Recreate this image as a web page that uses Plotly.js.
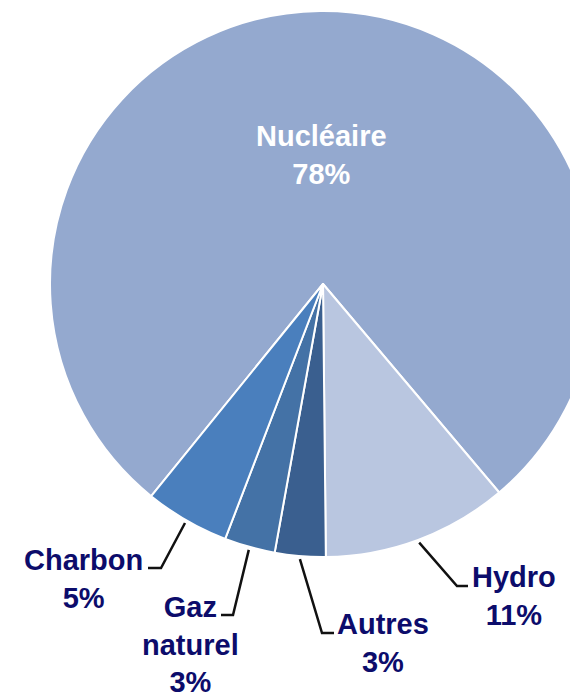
<!DOCTYPE html>
<html><head><meta charset="utf-8">
<script src="https://cdn.plot.ly/plotly-3.0.1.min.js"></script>
<style>html,body{margin:0;padding:0;overflow:hidden;background:#fff}#chart{width:596px;height:697px}</style>
</head><body><div id="chart"></div>
<script>
// ---- data ----
const categories = ['Nucléaire', 'Hydro', 'Autres', 'Gaz naturel', 'Charbon'];
const shares = [78, 11, 3, 3, 5];
const labelTexts = ['Nucléaire', 'Hydro', 'Autres', 'Gaz<br>naturel', 'Charbon'];

// ---- styles / layout ----
const sliceColors = ['#94a9cf', '#b9c6e0', '#3a5f8f', '#4472a6', '#4a7fbd'];
const G = {l: 50, t: 11, size: 546, W: 596, H: 697};
const cx = G.l + G.size / 2, cy = G.t + G.size / 2, R = G.size / 2;
const rotation = 219;
const textColor = '#0c0c6b';
const fontFamily = '"Liberation Sans", Arial, sans-serif';

// outside label placement (pixels): text centre, elbow of leader line, end of horizontal tick
const labelPlacement = {
  'Hydro':       {tx: 514, ty: 596, elbow: [457, 586], end: [468, 586]},
  'Autres':      {tx: 383, ty: 643, elbow: [322, 633], end: [334, 633]},
  'Gaz naturel': {tx: 190, ty: 644, elbow: [233, 615], end: [221, 615]},
  'Charbon':     {tx: 83,  ty: 579, elbow: [161, 568], end: [148, 568]}
};
const insideLabelRadius = 0.474; // fraction of R for the inside label

const px = x => (x - G.l) / G.size;
const py = y => 1 - (y - G.t) / G.size;

const total = shares.reduce((a, b) => a + b, 0);
let acc = 0;
const annotations = [], shapes = [];
categories.forEach((cat, i) => {
  const mid = (rotation + 360 * (acc + shares[i] / 2) / total) * Math.PI / 180;
  acc += shares[i];
  const txt = '<b>' + labelTexts[i] + '<br>' + shares[i] + '%</b>';
  if (i === 0) {
    const d = insideLabelRadius * R;
    annotations.push({
      x: px(cx + d * Math.sin(mid)), y: py(cy - d * Math.cos(mid)),
      xref: 'paper', yref: 'paper', xanchor: 'center', yanchor: 'middle',
      showarrow: false, text: txt,
      font: {family: fontFamily, size: 29, color: '#ffffff'}
    });
    return;
  }
  const p = labelPlacement[cat];
  const sx = cx + (R + 3) * Math.sin(mid), sy = cy - (R + 3) * Math.cos(mid);
  shapes.push({
    type: 'path', xref: 'paper', yref: 'paper',
    path: 'M' + px(sx) + ',' + py(sy) + ' L' + px(p.elbow[0]) + ',' + py(p.elbow[1]) +
          ' L' + px(p.end[0]) + ',' + py(p.end[1]),
    line: {color: '#111111', width: 2.5}
  });
  annotations.push({
    x: px(p.tx), y: py(p.ty),
    xref: 'paper', yref: 'paper', xanchor: 'center', yanchor: 'middle',
    showarrow: false, text: txt,
    font: {family: fontFamily, size: 29, color: textColor}
  });
});

const trace = {
  type: 'pie',
  labels: categories,
  values: shares,
  sort: false,
  direction: 'clockwise',
  rotation: rotation,
  marker: {colors: sliceColors, line: {color: '#ffffff', width: 2}},
  textinfo: 'none',
  hoverinfo: 'skip',
  domain: {x: [0, 1], y: [0, 1]}
};

const layout = {
  width: G.W, height: G.H,
  margin: {l: G.l, r: G.W - G.l - G.size, t: G.t, b: G.H - G.t - G.size, pad: 0},
  showlegend: false,
  paper_bgcolor: '#ffffff',
  annotations: annotations,
  shapes: shapes
};

Plotly.newPlot('chart', [trace], layout, {displayModeBar: false, staticPlot: true});
</script>
</body></html>
